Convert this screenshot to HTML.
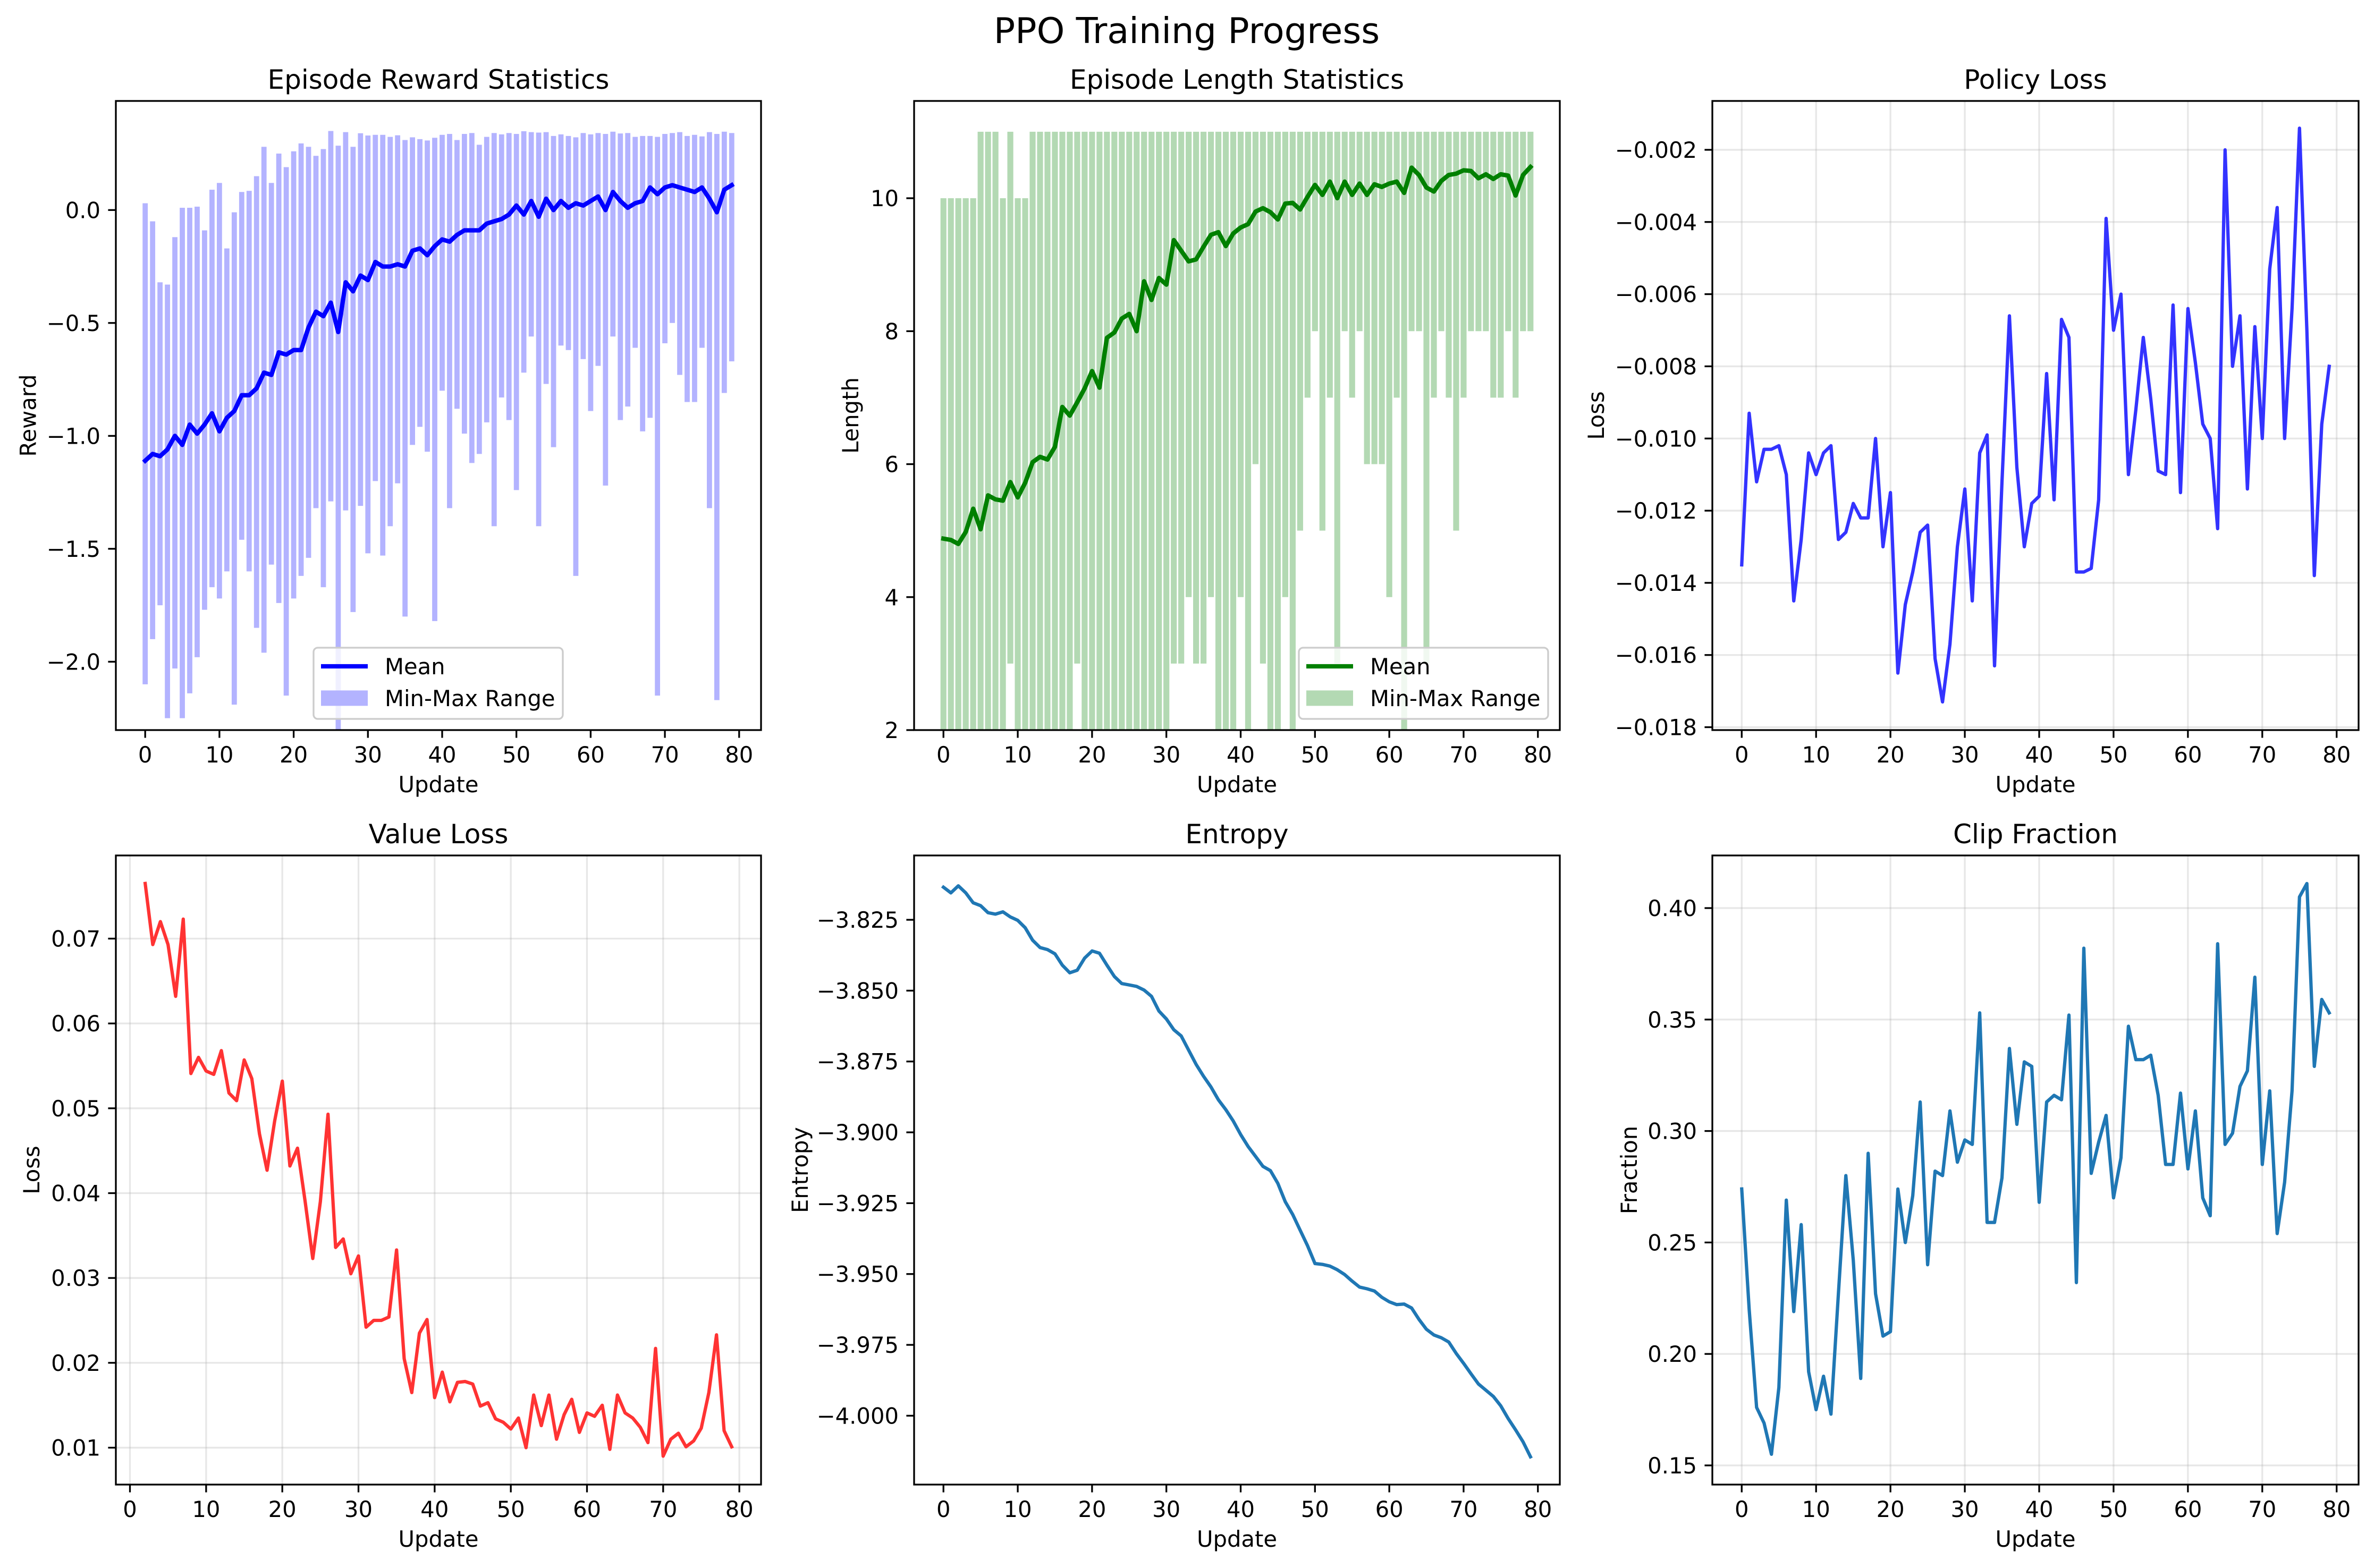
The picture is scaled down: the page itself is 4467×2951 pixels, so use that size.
<!DOCTYPE html>
<html><head><meta charset="utf-8">
<style>
html,body{margin:0;padding:0;background:#fff;}
svg{display:block;font-family:"DejaVu Sans","Liberation Sans",sans-serif;}
</style></head>
<body>
<svg id="chart" xmlns="http://www.w3.org/2000/svg" width="4467" height="2951" viewBox="0 0 4467 2951">
<rect x="0" y="0" width="4467" height="2951" fill="#fff"/>
<text x="2233" y="81" font-size="67" text-anchor="middle" fill="#000">PPO Training Progress</text>
</svg>
<script>
// ---------- DATA ----------
const updates = Array.from({length:80},(_,i)=>i);
const xTicks = [0,10,20,30,40,50,60,70,80];

const rewardMean = [-1.11,-1.08,-1.09,-1.06,-1.00,-1.04,-0.95,-0.99,-0.95,-0.90,-0.98,-0.92,-0.89,-0.82,-0.82,-0.79,-0.72,-0.73,-0.63,-0.64,-0.62,-0.62,-0.52,-0.45,-0.47,-0.41,-0.54,-0.32,-0.36,-0.29,-0.31,-0.23,-0.25,-0.25,-0.24,-0.25,-0.18,-0.17,-0.20,-0.16,-0.13,-0.14,-0.11,-0.09,-0.09,-0.09,-0.06,-0.05,-0.04,-0.02,0.02,-0.02,0.04,-0.03,0.05,0.00,0.04,0.01,0.03,0.02,0.04,0.06,0.00,0.08,0.04,0.01,0.03,0.04,0.10,0.07,0.10,0.11,0.10,0.09,0.08,0.10,0.05,-0.01,0.09,0.11];
const rewardMax = [0.03,-0.05,-0.32,-0.33,-0.12,0.01,0.01,0.015,-0.09,0.09,0.12,-0.17,-0.01,0.08,0.085,0.15,0.28,0.12,0.25,0.19,0.26,0.295,0.28,0.24,0.27,0.35,0.285,0.345,0.28,0.34,0.33,0.333,0.333,0.324,0.331,0.31,0.322,0.314,0.308,0.32,0.333,0.337,0.31,0.337,0.341,0.289,0.324,0.341,0.335,0.341,0.337,0.349,0.345,0.343,0.345,0.328,0.335,0.328,0.322,0.341,0.335,0.341,0.337,0.347,0.339,0.341,0.324,0.328,0.328,0.324,0.337,0.341,0.345,0.328,0.333,0.326,0.345,0.337,0.347,0.341];
const rewardMin = [-2.10,-1.90,-1.75,-2.25,-2.03,-2.25,-2.14,-1.98,-1.77,-1.67,-1.72,-1.60,-2.19,-1.46,-1.60,-1.85,-1.96,-1.57,-1.74,-2.15,-1.72,-1.62,-1.54,-1.32,-1.67,-1.29,-2.40,-1.33,-1.78,-1.31,-1.52,-1.20,-1.53,-1.40,-1.21,-1.80,-1.04,-0.96,-1.07,-1.82,-0.80,-1.32,-0.88,-0.99,-1.12,-1.08,-0.94,-1.40,-0.83,-0.93,-1.24,-0.72,-0.56,-1.40,-0.77,-1.05,-0.60,-0.62,-1.62,-0.66,-0.89,-0.69,-1.22,-0.56,-0.93,-0.87,-0.61,-0.98,-0.92,-2.15,-0.59,-0.50,-0.73,-0.85,-0.85,-0.61,-1.32,-2.17,-0.81,-0.67];
const rewardTicks = [0.0,-0.5,-1.0,-1.5,-2.0];
const rewardTickLabels = ["0.0","\u22120.5","\u22121.0","\u22121.5","\u22122.0"];

const lengthMean = [4.88,4.86,4.80,4.98,5.33,5.02,5.53,5.47,5.45,5.73,5.50,5.72,6.03,6.11,6.07,6.26,6.86,6.73,6.93,7.14,7.40,7.15,7.90,7.98,8.19,8.26,8.00,8.75,8.47,8.80,8.70,9.37,9.21,9.05,9.08,9.27,9.45,9.49,9.28,9.47,9.56,9.61,9.80,9.85,9.79,9.68,9.92,9.93,9.83,10.02,10.20,10.05,10.25,10.00,10.25,10.05,10.22,10.05,10.21,10.17,10.22,10.25,10.08,10.46,10.35,10.16,10.10,10.26,10.35,10.37,10.42,10.41,10.30,10.36,10.29,10.36,10.34,10.04,10.35,10.47];
const lengthMax = [10,10,10,10,10,11,11,11,10,11,10,10,11,11,11,11,11,11,11,11,11,11,11,11,11,11,11,11,11,11,11,11,11,11,11,11,11,11,11,11,11,11,11,11,11,11,11,11,11,11,11,11,11,11,11,11,11,11,11,11,11,11,11,11,11,11,11,11,11,11,11,11,11,11,11,11,11,11,11,11];
const lengthMin = [2,2,2,2,2,2,2,2,2,3,2,2,2,2,2,2,2,2,3,2,2,2,2,2,2,2,2,2,2,2,2,3,3,4,3,3,4,2,2,2,4,2,6,3,2,2,4,2,5,7,8,5,7,3,8,7,8,6,6,6,4,7,2,8,8,3,7,8,7,5,7,8,8,8,7,7,8,7,8,8];
const lengthTicks = [2,4,6,8,10];
const lengthTickLabels = ["2","4","6","8","10"];

const policyLoss = [-0.0135,-0.0093,-0.0112,-0.0103,-0.0103,-0.0102,-0.0110,-0.0145,-0.0128,-0.0104,-0.0110,-0.0104,-0.0102,-0.0128,-0.0126,-0.0118,-0.0122,-0.0122,-0.0100,-0.0130,-0.0115,-0.0165,-0.0146,-0.0137,-0.0126,-0.0124,-0.0161,-0.0173,-0.0157,-0.0130,-0.0114,-0.0145,-0.0104,-0.0099,-0.0163,-0.0112,-0.0066,-0.0108,-0.0130,-0.0118,-0.0116,-0.0082,-0.0117,-0.0067,-0.0072,-0.0137,-0.0137,-0.0136,-0.0117,-0.0039,-0.0070,-0.0060,-0.0110,-0.0092,-0.0072,-0.0089,-0.0109,-0.0110,-0.0063,-0.0115,-0.0064,-0.0079,-0.0096,-0.0100,-0.0125,-0.0020,-0.0080,-0.0066,-0.0114,-0.0069,-0.0100,-0.0053,-0.0036,-0.0100,-0.0064,-0.0014,-0.0070,-0.0138,-0.0096,-0.0080];
const policyTicks = [-0.002,-0.004,-0.006,-0.008,-0.010,-0.012,-0.014,-0.016,-0.018];
const policyTickLabels = ["\u22120.002","\u22120.004","\u22120.006","\u22120.008","\u22120.010","\u22120.012","\u22120.014","\u22120.016","\u22120.018"];

const valueUpdates = Array.from({length:78},(_,i)=>i+2);
const valueLoss = [0.0765,0.0693,0.0720,0.0693,0.0632,0.0723,0.0541,0.0560,0.0544,0.0540,0.0568,0.0518,0.0509,0.0557,0.0535,0.0470,0.0427,0.0485,0.0532,0.0432,0.0453,0.0390,0.0323,0.0390,0.0493,0.0336,0.0346,0.0305,0.0326,0.0242,0.0250,0.0250,0.0254,0.0333,0.0205,0.0165,0.0235,0.0251,0.0159,0.0189,0.0154,0.0177,0.0178,0.0175,0.0149,0.0153,0.0134,0.0130,0.0122,0.0135,0.0100,0.0162,0.0126,0.0162,0.0110,0.0139,0.0157,0.0118,0.0141,0.0137,0.0150,0.0098,0.0162,0.0141,0.0135,0.0124,0.0106,0.0217,0.0090,0.0110,0.0117,0.0101,0.0108,0.0123,0.0165,0.0233,0.0120,0.0101];
const valueTicks = [0.01,0.02,0.03,0.04,0.05,0.06,0.07];
const valueTickLabels = ["0.01","0.02","0.03","0.04","0.05","0.06","0.07"];

const entropy = [-3.8135,-3.8155,-3.8130,-3.8155,-3.8190,-3.8200,-3.8225,-3.8230,-3.8222,-3.8240,-3.8252,-3.8278,-3.8322,-3.8348,-3.8355,-3.8370,-3.8410,-3.8437,-3.8428,-3.8385,-3.8360,-3.8368,-3.8410,-3.8450,-3.8475,-3.8480,-3.8485,-3.8498,-3.8520,-3.8572,-3.8600,-3.8638,-3.8660,-3.8710,-3.8760,-3.8802,-3.8840,-3.8885,-3.8920,-3.8960,-3.9008,-3.9050,-3.9085,-3.9120,-3.9135,-3.9180,-3.9245,-3.9290,-3.9345,-3.9400,-3.9463,-3.9466,-3.9472,-3.9485,-3.9502,-3.9525,-3.9546,-3.9552,-3.9560,-3.9582,-3.9598,-3.9608,-3.9606,-3.9620,-3.9660,-3.9695,-3.9715,-3.9725,-3.9740,-3.9780,-3.9815,-3.9852,-3.9888,-3.9910,-3.9932,-3.9965,-4.0010,-4.0050,-4.0092,-4.0145];
const entropyTicks = [-3.825,-3.850,-3.875,-3.900,-3.925,-3.950,-3.975,-4.000];
const entropyTickLabels = ["\u22123.825","\u22123.850","\u22123.875","\u22123.900","\u22123.925","\u22123.950","\u22123.975","\u22124.000"];

const clipFraction = [0.274,0.220,0.176,0.169,0.155,0.185,0.269,0.219,0.258,0.192,0.175,0.190,0.173,0.227,0.280,0.242,0.189,0.290,0.227,0.208,0.210,0.274,0.250,0.271,0.313,0.240,0.282,0.280,0.309,0.286,0.296,0.294,0.353,0.259,0.259,0.279,0.337,0.303,0.331,0.329,0.268,0.313,0.316,0.314,0.352,0.232,0.382,0.281,0.295,0.307,0.270,0.288,0.347,0.332,0.332,0.334,0.316,0.285,0.285,0.317,0.283,0.309,0.270,0.262,0.384,0.294,0.299,0.320,0.327,0.369,0.285,0.318,0.254,0.277,0.318,0.405,0.411,0.329,0.359,0.353];
const clipTicks = [0.15,0.20,0.25,0.30,0.35,0.40];
const clipTickLabels = ["0.15","0.20","0.25","0.30","0.35","0.40"];

// ---------- RENDER ----------
const NS = "http://www.w3.org/2000/svg";
const svg = document.getElementById('chart');
function mk(tag, attrs, parent){
  const e = document.createElementNS(NS, tag);
  for (const k in attrs) e.setAttribute(k, attrs[k]);
  (parent || svg).appendChild(e);
  return e;
}
let clipId = 0;

function makeAxes(cfg){
  const g = mk('g', {});
  
  
  const sx = v => cfg.left + (v - cfg.xmin) / (cfg.xmax - cfg.xmin) * (cfg.right - cfg.left);
  const sy = v => cfg.bottom - (v - cfg.ymin) / (cfg.ymax - cfg.ymin) * (cfg.bottom - cfg.top);
  const cid = 'clip' + (clipId++);
  const cp = mk('clipPath', {id: cid}, g);
  mk('rect', {x: cfg.left, y: cfg.top, width: cfg.right - cfg.left, height: cfg.bottom - cfg.top}, cp);
  if (cfg.grid){
    const gg = mk('g', {stroke: '#b0b0b0', 'stroke-opacity': 0.3, 'stroke-width': 3.3}, g);
    
    
    xTicks.forEach(t => { const x = sx(t); if (x >= cfg.left && x <= cfg.right) mk('line', {x1: x, x2: x, y1: cfg.top, y2: cfg.bottom}, gg); });
    cfg.yTicks.forEach(t => { const y = sy(t); mk('line', {x1: cfg.left, x2: cfg.right, y1: y, y2: y}, gg); });
  }
  const plot = mk('g', {'clip-path': 'url(#' + cid + ')'}, g);
  
  
  return {g, plot, sx, sy, cfg};
}

function finishAxes(ax, title, xlabel, ylabel, ylabelX){
  const c = ax.cfg, g = ax.g;
  const frame = mk('rect', {x: c.left, y: c.top, width: c.right - c.left, height: c.bottom - c.top, fill: 'none', stroke: '#000', 'stroke-width': 3.3}, g);
  
  
  xTicks.forEach(t => {
    const x = ax.sx(t);
    mk('line', {x1: x, x2: x, y1: c.bottom, y2: c.bottom + 14.6, stroke: '#000', 'stroke-width': 3.3}, g);
    const tl = mk('text', {x: x, y: c.bottom + 61, 'font-size': 41.7, 'text-anchor': 'middle', fill: '#000'}, g);
    tl.textContent = String(t);
    
    
  });
  c.yTicks.forEach((t, i) => {
    const y = ax.sy(t);
    mk('line', {x1: c.left - 14.6, x2: c.left, y1: y, y2: y, stroke: '#000', 'stroke-width': 3.3}, g);
    const tl = mk('text', {x: c.left - 29, y: y + 15, 'font-size': 41.7, 'text-anchor': 'end', fill: '#000'}, g);
    tl.textContent = c.yTickLabels[i];
    
    
  });
  const cx = (c.left + c.right) / 2;
  const tt = mk('text', {x: cx, y: c.top - 23, 'font-size': 50, 'text-anchor': 'middle', fill: '#000'}, g);
  tt.textContent = title;
  
  
  const xl = mk('text', {x: cx, y: c.bottom + 117, 'font-size': 41.7, 'text-anchor': 'middle', fill: '#000'}, g);
  xl.textContent = xlabel;
  
  
  const cy = (c.top + c.bottom) / 2;
  const yl = mk('text', {x: ylabelX + 15, y: cy, 'font-size': 41.7, 'text-anchor': 'middle', fill: '#000', transform: 'rotate(-90 ' + (ylabelX + 15) + ' ' + cy + ')'}, g);
  yl.textContent = ylabel;
  
  
}

function drawLine(ax, xs, ys, color, width, name){
  const d = xs.map((x, i) => (i ? 'L' : 'M') + ax.sx(x).toFixed(1) + ',' + ax.sy(ys[i]).toFixed(1)).join(' ');
  const p = mk('path', {d: d, fill: 'none', stroke: color, 'stroke-width': width, 'stroke-linejoin': 'round', 'stroke-linecap': 'square'}, ax.plot);
  
  
}

function drawBars(ax, xs, mins, maxs, color, w, name){
  xs.forEach((x, i) => {
    const x0 = ax.sx(x - w / 2), x1 = ax.sx(x + w / 2);
    const y0 = ax.sy(maxs[i]), y1 = ax.sy(mins[i]);
    const r = mk('rect', {x: x0, y: y0, width: x1 - x0, height: Math.max(0, y1 - y0), fill: color}, ax.plot);
    
    
  });
}

function legend(ax, x0, x1, y0, y1, lineColor, patchColor, name){
  const g = mk('g', {}, ax.g);
  
  
  mk('rect', {x: x0, y: y0, width: x1 - x0, height: y1 - y0, rx: 8, fill: '#fff', 'fill-opacity': 0.8, stroke: '#cccccc', 'stroke-width': 3.3}, g);
  const hx0 = x0 + 14, hx1 = x0 + 102;
  const ly = y0 + 35, py = y0 + 95;
  const ln = mk('line', {x1: hx0, x2: hx1, y1: ly, y2: ly, stroke: lineColor, 'stroke-width': 8.3}, g);
  
  
  const pr = mk('rect', {x: hx0, y: py - 14.6, width: hx1 - hx0, height: 29, fill: patchColor}, g);
  
  
  const t1 = mk('text', {x: hx1 + 32, y: ly + 15, 'font-size': 41.7, fill: '#000'}, g);
  t1.textContent = 'Mean';
  
  
  const t2 = mk('text', {x: hx1 + 32, y: py + 15, 'font-size': 41.7, fill: '#000'}, g);
  t2.textContent = 'Min-Max Range';
  
  
}

const TOP = {top: 190, bottom: 1374};
const BOT = {top: 1610, bottom: 2794};
const COL = [{left: 218, right: 1432}, {left: 1720, right: 2935}, {left: 3222, right: 4438}];

// Panel 1: reward
const a1 = makeAxes(Object.assign({name: 'episode-reward-panel', xmin: -3.95, xmax: 82.95, ymin: -2.3026, ymax: 0.483, yTicks: rewardTicks, yTickLabels: rewardTickLabels}, COL[0], TOP));
drawBars(a1, updates, rewardMin, rewardMax, '#b3b3ff', 0.7, 'reward-range-bar');
drawLine(a1, updates, rewardMean, '#0000ff', 8.3, 'reward-mean-line');
finishAxes(a1, 'Episode Reward Statistics', 'Update', 'Reward', 52.6);
legend(a1, 590, 1059, 1219, 1353, '#0000ff', '#b3b3ff', 'reward-legend');

// Panel 2: length
const a2 = makeAxes(Object.assign({name: 'episode-length-panel', xmin: -3.95, xmax: 82.95, ymin: 2, ymax: 11.463, yTicks: lengthTicks, yTickLabels: lengthTickLabels}, COL[1], TOP));
drawBars(a2, updates, lengthMin, lengthMax, '#b3d9b3', 0.8, 'length-range-bar');
drawLine(a2, updates, lengthMean, '#008000', 8.3, 'length-mean-line');
finishAxes(a2, 'Episode Length Statistics', 'Update', 'Length', 1600);
legend(a2, 2444, 2913, 1219, 1353, '#008000', '#b3d9b3', 'length-legend');

// Panel 3: policy loss
const a3 = makeAxes(Object.assign({name: 'policy-loss-panel', grid: true, xmin: -3.95, xmax: 82.95, ymin: -0.01808, ymax: -0.000646, yTicks: policyTicks, yTickLabels: policyTickLabels}, COL[2], TOP));
drawLine(a3, updates, policyLoss, '#3333ff', 6.25, 'policy-loss-line');
finishAxes(a3, 'Policy Loss', 'Update', 'Loss', 3003);

// Panel 4: value loss
const a4 = makeAxes(Object.assign({name: 'value-loss-panel', grid: true, xmin: -1.85, xmax: 82.85, ymin: 0.00565, ymax: 0.0798, yTicks: valueTicks, yTickLabels: valueTickLabels}, COL[0], BOT));
drawLine(a4, valueUpdates, valueLoss, '#ff3333', 6.25, 'value-loss-line');
finishAxes(a4, 'Value Loss', 'Update', 'Loss', 59);

// Panel 5: entropy
const a5 = makeAxes(Object.assign({name: 'entropy-panel', xmin: -3.95, xmax: 82.95, ymin: -4.0243, ymax: -3.8023, yTicks: entropyTicks, yTickLabels: entropyTickLabels}, COL[1], BOT));
drawLine(a5, updates, entropy, '#1f77b4', 6.25, 'entropy-line');
finishAxes(a5, 'Entropy', 'Update', 'Entropy', 1505);

// Panel 6: clip fraction
const a6 = makeAxes(Object.assign({name: 'clip-fraction-panel', grid: true, xmin: -3.95, xmax: 82.95, ymin: 0.1414, ymax: 0.4236, yTicks: clipTicks, yTickLabels: clipTickLabels}, COL[2], BOT));
drawLine(a6, updates, clipFraction, '#1f77b4', 6.25, 'clip-fraction-line');
finishAxes(a6, 'Clip Fraction', 'Update', 'Fraction', 3065);
</script>
</body></html>
